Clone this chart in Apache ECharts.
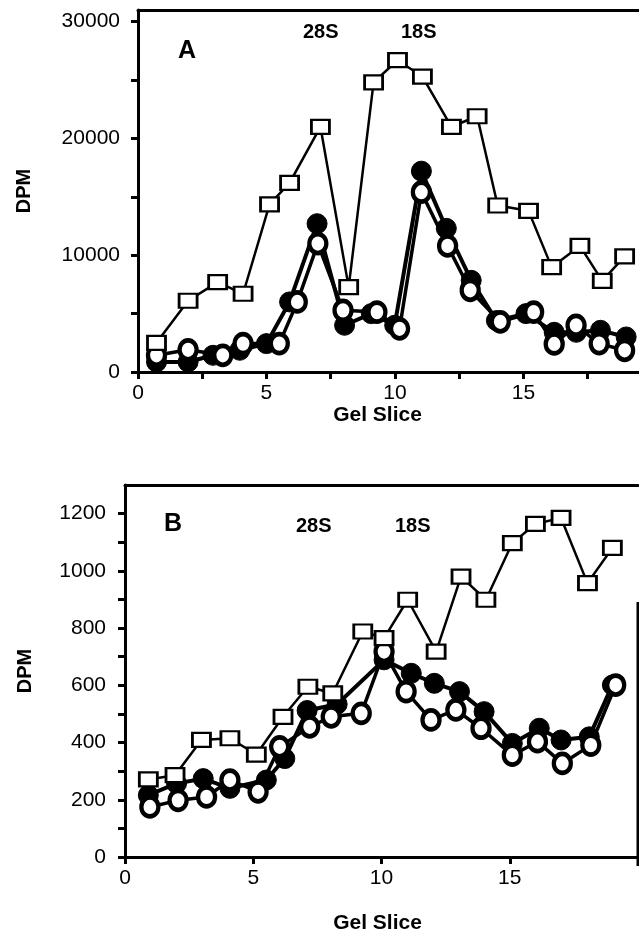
<!DOCTYPE html>
<html>
<head>
<meta charset="utf-8">
<script src="https://cdn.jsdelivr.net/npm/echarts@6/dist/echarts.min.js"></script>
<style>
  html, body { margin: 0; padding: 0; background: #fff; }
  #chart { width: 639px; height: 936px; }
</style>
</head>
<body>
<div id="chart"></div>
<script>
// ---- panel A : gel slice vs DPM ----
var sqA_x   = [0.72, 1.95, 3.1, 4.09, 5.12, 5.9, 7.1, 8.2, 9.17, 10.1, 11.07, 12.2, 13.2, 14.0, 15.2, 16.1, 17.2, 18.07, 18.94];
var sqA_y   = [2500, 6100, 7700, 6700, 14350, 16200, 21000, 7270, 24800, 26700, 25300, 21000, 21900, 14260, 13800, 8980, 10800, 7800, 9900];
var fillA_x = [0.72, 1.95, 2.92, 3.96, 5.0, 5.9, 6.97, 8.04, 9.08, 9.99, 11.03, 12.0, 12.97, 13.95, 15.1, 16.2, 17.06, 18.0, 19.0];
var fillA_y = [860, 860, 1430, 1860, 2430, 6000, 12700, 4000, 5000, 4000, 17200, 12300, 7850, 4400, 5000, 3400, 3400, 3570, 3000];
var openA_x = [0.72, 1.95, 3.3, 4.09, 5.5, 6.2, 7.0, 7.98, 9.3, 10.18, 11.03, 12.05, 12.93, 14.1, 15.4, 16.2, 17.05, 17.95, 18.94];
var openA_y = [1430, 1900, 1430, 2430, 2430, 6000, 11000, 5280, 5130, 3700, 15400, 10800, 7000, 4300, 5130, 2400, 4000, 2430, 1860];

// ---- panel B ----
var sqB_x   = [0.91, 1.95, 2.98, 4.09, 5.12, 6.16, 7.13, 8.1, 9.27, 10.1, 11.02, 12.13, 13.1, 14.07, 15.1, 16.0, 17.0, 18.03, 19.0];
var sqB_y   = [271, 286, 409, 415, 358, 490, 595, 572, 788, 765, 899, 718, 980, 899, 1097, 1164, 1185, 957, 1080];
var fillB_x = [0.91, 2.01, 3.05, 4.09, 5.51, 6.23, 7.1, 8.27, 10.1, 11.16, 12.06, 13.04, 14.0, 15.1, 16.15, 17.0, 18.1, 19.0];
var fillB_y = [216, 257, 274, 240, 269, 344, 512, 534, 689, 642, 607, 578, 508, 397, 450, 409, 420, 601];
var openB_x = [0.97, 2.07, 3.18, 4.09, 5.19, 6.03, 7.2, 8.04, 9.21, 10.1, 10.96, 11.93, 12.9, 13.88, 15.1, 16.08, 17.05, 18.16, 19.13];
var openB_y = [175, 198, 210, 269, 228, 385, 455, 490, 502, 718, 578, 479, 514, 450, 356, 403, 327, 391, 601];

// axis ticks / labels
var xTicksA  = [0, 2.5, 5, 7.5, 10, 12.5, 15, 17.5];
var xTicksB  = [0, 5, 10, 15, 20];
var xLabels  = [0, 5, 10, 15];
var yTicksA  = [0, 5000, 10000, 15000, 20000, 25000, 30000];
var yLabelsA = [0, 10000, 20000, 30000];
var yTicksB  = [0, 100, 200, 300, 400, 500, 600, 700, 800, 900, 1000, 1100, 1200];
var yLabelsB = [0, 200, 400, 600, 800, 1000, 1200];

function pairs(xs, ys) {
    var out = [];
    for (var i = 0; i < xs.length; i++) out.push([xs[i], ys[i]]);
    return out;
}

var FONT = '"Liberation Sans", Arial, Helvetica, sans-serif';
var axisLine = { lineStyle: { color: '#000', width: 3 } };
var plain = function (v) { return String(v); };   // no thousands separators

function xAxisMain(grid, max, ticks, gap, shift) {
    return {
        type: 'value', gridIndex: grid, min: 0, max: max,
        axisLine: axisLine,
        axisTick: { customValues: ticks, length: 7, lineStyle: { color: '#000', width: 3 } },
        axisLabel: { customValues: xLabels, color: '#000', fontSize: 21, fontFamily: FONT, margin: 11, formatter: plain },
        splitLine: { show: false },
        name: 'Gel Slice', nameLocation: 'middle', nameGap: gap,
        nameTextStyle: { color: '#000', fontSize: 21, fontWeight: 'bold', fontFamily: FONT, padding: [0, shift, 0, 0] }
    };
}
function xAxisTop(grid, max) {
    return {
        type: 'value', gridIndex: grid, position: 'top', min: 0, max: max,
        axisLine: axisLine, axisTick: { show: false }, axisLabel: { show: false }, splitLine: { show: false }
    };
}
function yAxisMain(grid, max, ticks, labels, gap, lmargin) {
    return {
        type: 'value', gridIndex: grid, min: 0, max: max,
        axisLine: axisLine,
        axisTick: { customValues: ticks, length: 7, lineStyle: { color: '#000', width: 3 } },
        axisLabel: { customValues: labels, color: '#000', fontSize: 21, fontFamily: FONT, margin: lmargin, formatter: plain },
        splitLine: { show: false },
        name: 'DPM', nameLocation: 'middle', nameGap: gap, nameRotate: 90,
        nameTextStyle: { color: '#000', fontSize: 20, fontWeight: 'bold', fontFamily: FONT }
    };
}

function sqSeries(grid, data) {
    return {
        type: 'line', xAxisIndex: grid * 2, yAxisIndex: grid, data: data,
        symbol: 'rect', symbolSize: [18, 14], z: 4,
        itemStyle: { color: '#fff', borderColor: '#000', borderWidth: 2.5 },
        lineStyle: { color: '#000', width: 2.5 }, animation: false
    };
}
function fillSeries(grid, data) {
    return {
        type: 'line', xAxisIndex: grid * 2, yAxisIndex: grid, data: data,
        symbol: 'circle', symbolSize: 20, z: 2,
        itemStyle: { color: '#000', borderColor: '#000', borderWidth: 1 },
        lineStyle: { color: '#000', width: 4 }, animation: false
    };
}
function openSeries(grid, data) {
    return {
        type: 'line', xAxisIndex: grid * 2, yAxisIndex: grid, data: data,
        symbol: 'circle', symbolSize: [17, 19], z: 3,
        itemStyle: { color: '#fff', borderColor: '#000', borderWidth: 4.5 },
        lineStyle: { color: '#000', width: 3.5 }, animation: false
    };
}

function label(text, x, y, size) {
    return {
        type: 'text', left: x, top: y,
        style: { text: text, fill: '#000', font: 'bold ' + size + 'px ' + FONT }
    };
}

var chart = echarts.init(document.getElementById('chart'), null, { renderer: 'canvas' });

var option = {
    backgroundColor: '#fff',
    animation: false,
    grid: [
        { left: 138, top: 10, right: 0, height: 362 },
        { left: 125, top: 485, right: 1, height: 372 }
    ],
    xAxis: [
        xAxisMain(0, 19.5, xTicksA, 27, 22),
        xAxisTop(0, 19.5),
        xAxisMain(1, 20, xTicksB, 56, 8),
        xAxisTop(1, 20)
    ],
    yAxis: [
        yAxisMain(0, 31000, yTicksA, yLabelsA, 104, 18),
        yAxisMain(1, 1300, yTicksB, yLabelsB, 90, 19)
    ],
    series: [
        fillSeries(0, pairs(fillA_x, fillA_y)),
        openSeries(0, pairs(openA_x, openA_y)),
        sqSeries(0, pairs(sqA_x, sqA_y)),
        fillSeries(1, pairs(fillB_x, fillB_y)),
        openSeries(1, pairs(openB_x, openB_y)),
        sqSeries(1, pairs(sqB_x, sqB_y))
    ],
    graphic: [
        label('A', 178, 39, 25),
        label('28S', 303, 22, 20),
        label('18S', 401, 22, 20),
        label('B', 164, 512, 25),
        label('28S', 296, 516, 20),
        label('18S', 395, 516, 20),
        { type: 'line', shape: { x1: 638, y1: 602, x2: 638, y2: 866 }, style: { stroke: '#000', lineWidth: 3 } }
    ]
};

chart.setOption(option);
</script>
</body>
</html>
